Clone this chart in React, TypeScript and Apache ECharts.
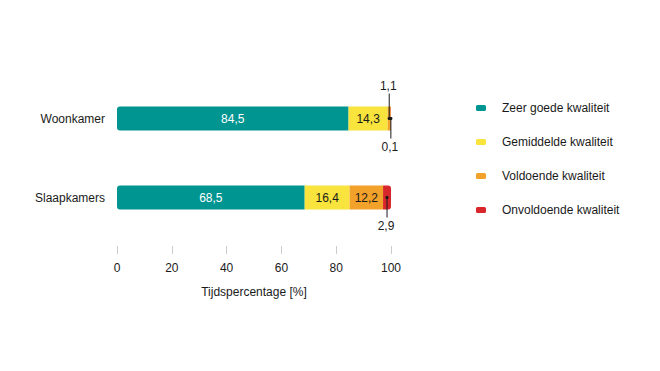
import React, { useEffect, useRef } from "react";
import * as echarts from "echarts";

const categories = ["Woonkamer", "Slaapkamers"];
const seriesNames = [
  "Zeer goede kwaliteit",
  "Gemiddelde kwaliteit",
  "Voldoende kwaliteit",
  "Onvoldoende kwaliteit",
];
const zeerGoed = [84.5, 68.5];
const gemiddeld = [14.3, 16.4];
const voldoende = [1.1, 12.2];
const onvoldoende = [0.1, 2.9];
const xTicks = [0, 20, 40, 60, 80, 100];
const colors = ["#009591", "#f8e43c", "#f2a12a", "#d8272b"];
// small segments labelled outside: [category index, series index, direction (-1 up, 1 down)]
const outsideLabels: [number, number, number][] = [
  [0, 2, -1],
  [0, 3, 1],
  [1, 3, 1],
];

const fmt = (v: number) => v.toFixed(1).replace(".", ",");
const FONT = "Liberation Sans";

export default function App() {
  const ref = useRef<HTMLDivElement>(null);
  useEffect(() => {
    if (!ref.current) return;
    const chart = echarts.init(ref.current, undefined, { renderer: "svg" });
    const all = [zeerGoed, gemiddeld, voldoende, onvoldoende];
    const barSeries = all.map((vals, si) => ({
      type: "bar",
      name: seriesNames[si],
      stack: "t",
      barWidth: 24,
      itemStyle: {
        color: colors[si],
        borderRadius: si === 0 ? [3, 0, 0, 3] : si === 3 ? [0, 3, 3, 0] : 0,
      },
      label: {
        show: true,
        position: "inside",
        fontFamily: FONT,
        fontSize: 12,
        color: si === 0 ? "#ffffff" : "#1a1a1a",
        formatter: (p: any) => (p.value >= 5 ? fmt(p.value) : ""),
      },
      data: vals,
    }));
    const customData = outsideLabels.map(([ci, si, dir]) => {
      let start = 0;
      for (let k = 0; k < si; k++) start += all[k][ci];
      return [ci, start, all[si][ci], dir];
    });
    const custom = {
      type: "custom",
      name: "leaders",
      silent: true,
      z: 5,
      data: customData,
      renderItem: (params: any, api: any) => {
        const ci = api.value(0);
        const start = api.value(1);
        const val = api.value(2);
        const dir = api.value(3);
        const p = api.coord([start + val / 2, ci]);
        const lineLen = dir < 0 ? 25 : 20;
        return {
          type: "group",
          children: [
            {
              type: "line",
              shape: { x1: p[0], y1: p[1], x2: p[0], y2: p[1] + dir * lineLen },
              style: { stroke: "#1a1a1a", lineWidth: 1 },
            },
            {
              type: "circle",
              shape: { cx: p[0], cy: p[1], r: 1.6 },
              style: { fill: "#1a1a1a" },
            },
            {
              type: "text",
              x: p[0] - 1,
              y: p[1] + dir * (lineLen + 8),
              style: {
                text: fmt(val),
                fontFamily: FONT,
                fontSize: 12,
                fill: "#1a1a1a",
                align: "center",
                verticalAlign: "middle",
              },
            },
          ],
        };
      },
    };
    chart.setOption({
      animation: false,
      textStyle: { fontFamily: FONT },
      grid: { left: 109, right: 261, top: 71, height: 158 },
      legend: {
        orient: "vertical",
        left: 463,
        top: 89,
        itemWidth: 10,
        itemHeight: 6,
        itemGap: 22,
        icon: "roundRect",
        data: seriesNames,
        textStyle: {
          fontFamily: FONT,
          fontSize: 12,
          color: "#1a1a1a",
          padding: [0, 0, 0, 11],
        },
      },
      xAxis: {
        type: "value",
        min: 0,
        max: 100,
        interval: 20,
        offset: 9,
        axisLine: { show: false },
        axisTick: { show: true, length: 8, lineStyle: { color: "#cccccc" } },
        splitLine: { show: false },
        axisLabel: {
          margin: 16,
          fontSize: 12,
          color: "#1a1a1a",
          fontFamily: FONT,
          formatter: (v: number) => (xTicks.includes(v) ? String(v) : ""),
        },
        name: "Tijdspercentage [%]",
        nameLocation: "middle",
        nameGap: 40,
        nameTextStyle: { fontSize: 12, color: "#1a1a1a", fontFamily: FONT },
      },
      yAxis: {
        type: "category",
        data: categories,
        inverse: true,
        axisLine: { show: false },
        axisTick: { show: false },
        axisLabel: { margin: 12, fontSize: 12, color: "#1a1a1a", fontFamily: FONT },
      },
      series: [...barSeries, custom],
    });
    return () => chart.dispose();
  }, []);
  return <div ref={ref} style={{ width: 644, height: 355 }} />;
}
